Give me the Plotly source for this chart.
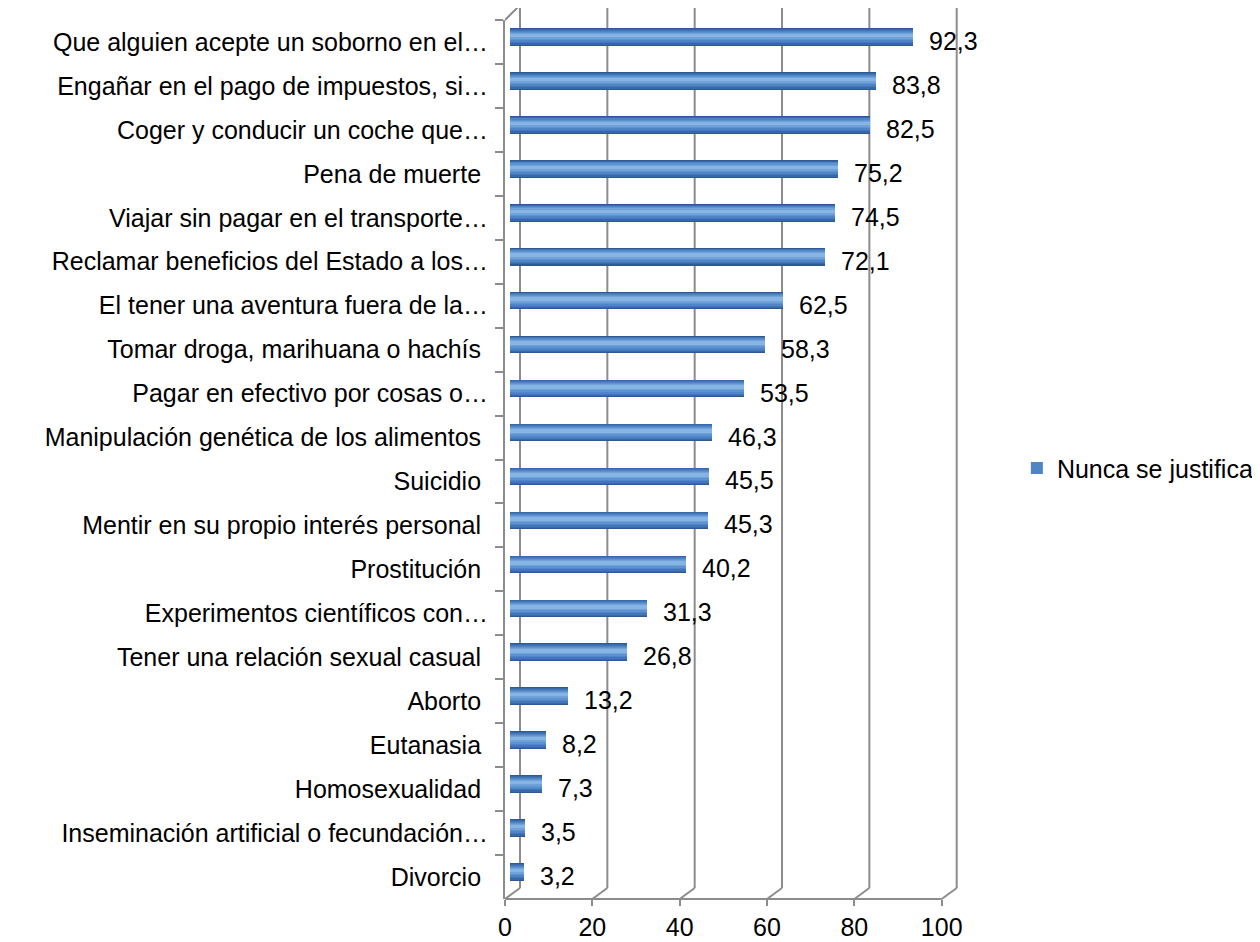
import plotly.graph_objects as go

# datos (de arriba hacia abajo)
categorias = [
    "Que alguien acepte un soborno en el…",
    "Engañar en el pago de impuestos, si…",
    "Coger y conducir un coche que…",
    "Pena de muerte ",
    "Viajar sin pagar en el transporte…",
    "Reclamar beneficios del Estado a los…",
    "El tener una aventura fuera de la…",
    "Tomar droga, marihuana o hachís ",
    "Pagar en efectivo por cosas o…",
    "Manipulación genética de los alimentos ",
    "Suicidio ",
    "Mentir en su propio interés personal ",
    "Prostitución ",
    "Experimentos científicos con…",
    "Tener una relación sexual casual ",
    "Aborto ",
    "Eutanasia ",
    "Homosexualidad ",
    "Inseminación artificial o fecundación…",
    "Divorcio ",
]
valores = [92.3, 83.8, 82.5, 75.2, 74.5, 72.1, 62.5, 58.3, 53.5, 46.3,
           45.5, 45.3, 40.2, 31.3, 26.8, 13.2, 8.2, 7.3, 3.5, 3.2]
etiquetas = [str(v).replace(".", ",") for v in valores]
ticks_x = [0, 20, 40, 60, 80, 100]
serie = "Nunca se justifica"

FONT = "Liberation Sans, Arial, sans-serif"
GRIS = "#8C8C8C"
k = 4.367            # px por unidad
R = 455 / k          # rango visible del eje x
desp = 0.114         # las barras quedan un poco por encima del centro (profundidad)

fig = go.Figure()

# cilindro simulado con capas superpuestas (borde oscuro -> brillo claro)
capas = [(0.40, 0.0, "#2E5993"), (0.36, -0.004, "#3868A6"),
         (0.31, -0.010, "#4376B7"), (0.26, -0.016, "#4F84C5"),
         (0.20, -0.022, "#5E93D1"), (0.14, -0.028, "#70A2DA"),
         (0.08, -0.034, "#87B4E3")]
for i, (w, c, col) in enumerate(capas):
    fig.add_trace(go.Bar(
        x=valores, y=categorias, orientation="h", xaxis="x2",
        width=w, offset=c - desp - w / 2, marker=dict(color=col, line_width=0),
        name=serie, showlegend=(i == 3), hoverinfo="x+y",
    ))

# lineas del fondo y suelo (3D)
shapes = []
for v in ticks_x:
    shapes.append(dict(type="line", xref="x", xsizemode="pixel", xanchor=v,
                       x0=15, x1=15, yref="paper", ysizemode="pixel", yanchor=0,
                       y0=11, y1=894, line=dict(color=GRIS, width=2), layer="below"))
    shapes.append(dict(type="line", xref="x", xsizemode="pixel", xanchor=v,
                       x0=0, x1=15, yref="paper", ysizemode="pixel", yanchor=0,
                       y0=0, y1=11, line=dict(color=GRIS, width=2), layer="below"))
shapes.append(dict(type="line", xref="x", x0=0, x1=100, yref="paper", y0=0, y1=0,
                   line=dict(color=GRIS, width=2), layer="below"))
shapes.append(dict(type="line", xref="x", xsizemode="pixel", xanchor=0, x0=0, x1=15,
                   yref="paper", ysizemode="pixel", yanchor=1, y0=0, y1=15,
                   line=dict(color=GRIS, width=2), layer="below"))

anots = []
for cat, v, t in zip(categorias, valores, etiquetas):
    anots.append(dict(x=v, y=cat, xref="x", yref="y", text=t, showarrow=False,
                      xanchor="left", xshift=19, yshift=1,
                      font=dict(family=FONT, size=25, color="black")))

fig.update_layout(
    width=1252, height=934,
    margin=dict(l=497, r=300, t=12, b=43, autoexpand=False),
    plot_bgcolor="white", paper_bgcolor="white",
    barmode="overlay", bargap=0,
    font=dict(family=FONT, size=25, color="black"),
    shapes=shapes, annotations=anots,
    xaxis=dict(range=[0, R], tickvals=ticks_x, showgrid=False, zeroline=False,
               showline=False, ticks="outside", ticklen=6, tickwidth=2,
               tickcolor=GRIS, ticklabelstandoff=0, fixedrange=True),
    xaxis2=dict(overlaying="x", range=[-5 / k, R - 5 / k], visible=False),
    yaxis=dict(type="category", categoryorder="array", categoryarray=categorias,
               autorange="reversed", showgrid=False, zeroline=False,
               showline=True, linecolor=GRIS, linewidth=2,
               ticks="outside", tickson="boundaries", ticklen=8, tickwidth=2,
               tickcolor=GRIS, ticklabelstandoff=10),
    legend=dict(x=1.125, y=0.49, xanchor="left", yanchor="middle",
                font=dict(family=FONT, size=25), bgcolor="rgba(0,0,0,0)"),
)

fig.write_html("out.html")
